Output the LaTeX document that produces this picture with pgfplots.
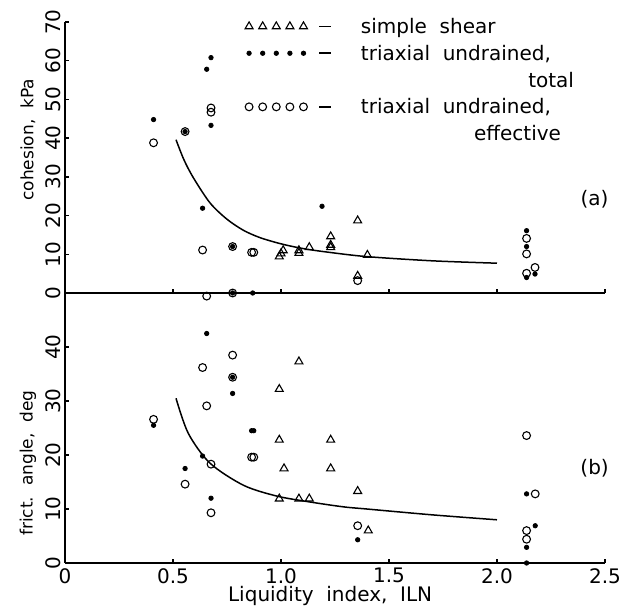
\documentclass[border=0pt]{standalone}
\usepackage{fontspec}
\setmainfont{DejaVu Sans}
\usepackage{pgfplots}
\pgfplotsset{compat=1.18}

\pgfplotsset{
  fivemarks/.style={legend image code/.code={%
      \begin{pgfscope}
        \pgfsetlinewidth{0.9pt}\pgfsetdash{}{0pt}\pgfsetstrokecolor{black}
        \pgfpathmoveto{\pgfpoint{35pt}{3.5pt}}\pgfpathlineto{\pgfpoint{41pt}{3.5pt}}
        \pgfusepath{stroke}
      \end{pgfscope}
      \draw[##1, only marks] plot coordinates {(0pt,3.5pt) (6.8pt,3.5pt) (13.6pt,3.5pt) (20.4pt,3.5pt) (27.2pt,3.5pt)};}},
  blank/.style={legend image code/.code={\path[draw=none, fill=none] (0pt,3.5pt) -- (41pt,3.5pt);}},
  shear/.style={only marks, mark=triangle, mark size=2.3pt, mark options={solid, line width=0.55pt}},
  total/.style={only marks, mark=*, mark size=1.1pt},
  effective/.style={only marks, mark=o, mark size=1.95pt, mark options={solid, line width=0.55pt}},
  panel/.style={
    scale only axis, width=270pt, clip=false,
    xmin=0, xmax=2.5,
    axis x line*=bottom, axis y line*=left,
    axis line style={-, line width=0.7pt},
    tick style={line width=0.7pt, black},
    tick align=inside, major tick length=2.2pt,
    xtick={0,0.5,1,1.5,2,2.5},
    yticklabel style={rotate=90, anchor=south, inner sep=2pt},
    xticklabel style={inner sep=2.5pt},
    ylabel style={font=\fontsize{8.5}{10}\selectfont, anchor=center},
  },
}

\begin{document}
\fontsize{10}{12}\selectfont
\begin{tikzpicture}
\useasboundingbox (-32.5pt,-22pt) rectangle (282pt,281.5pt);

% (b) friction angle
\begin{axis}[panel, name=bot, at={(0,0)}, height=135pt,
    ymin=0, ymax=50, ytick={0,10,20,30,40}, yticklabels={0,10,20,30,40},
    xticklabels={0,0.5,1.0,1.5,2.0,2.5},
    xlabel={Liquidity\ \ index,\ \ ILN},
    xlabel style={at={(axis description cs:0.491,0)}, anchor=north, inner sep=0pt, yshift=-11.5pt},
    ylabel={frict.\ \ angle,\ \ deg},
    ylabel style={at={(axis description cs:-0.0685,0.37)}}]
\addplot[shear] coordinates {
(1.083,37.3) (0.992,32.2) (0.992,22.8) (1.230,22.8) (1.014,17.5) (1.230,17.5)
(0.992,11.9) (1.083,11.9) (1.131,11.9) (1.355,13.3) (1.404,6.0)};
\addplot[total] coordinates {
(0.656,42.5) (0.776,31.4) (0.776,34.4) (0.864,24.5) (0.874,24.5) (0.637,19.8)
(0.556,17.5) (0.676,12.0) (0.410,25.5) (1.355,4.3) (2.137,12.8) (2.177,6.9)
(2.137,2.9) (2.137,0)};
\addplot[effective] coordinates {
(0.410,26.6) (0.776,38.5) (0.637,36.2) (0.656,29.1) (0.776,34.4) (0.864,19.6)
(0.874,19.6) (0.676,18.3) (0.556,14.6) (0.676,9.3) (1.355,6.9) (2.137,23.6)
(2.177,12.8) (2.137,6.0) (2.137,4.4)};
\addplot[smooth, line width=0.75pt] coordinates {
(0.514,30.5) (0.571,24.0) (0.671,18.5) (0.826,14.4) (0.98,12.4) (1.134,11.3)
(1.289,10.4) (1.397,10.0) (1.705,8.9) (2.0,8.0)};
\node at (axis cs:2.452,17.6) {(b)};
\end{axis}

% (a) cohesion
\begin{axis}[panel, name=top, at={(0,135pt)}, height=135.5pt,
    ymin=0, ymax=70, ytick={0,10,...,70}, yticklabels={0,10,20,30,40,50,60,70},
    xticklabels={},
    ylabel={cohesion,\ \ kPa},
    ylabel style={at={(axis description cs:-0.0685,0.565)}},
    legend style={draw=none, fill=none, inner sep=0pt, column sep=12.5pt, row sep=0.9pt,
      at={(axis cs:0.832,71.8)}, anchor=north west,
      cells={anchor=base west, inner sep=0pt, text height=7pt, text depth=2pt}}]
\addlegendimage{shear, fivemarks}
\addlegendentry{simple\ \ shear}
\addlegendimage{total, fivemarks}
\addlegendentry{triaxial\ \ undrained,}
\addlegendimage{blank}
\addlegendentry{\makebox[106.5pt][r]{total}}
\addlegendimage{effective, fivemarks}
\addlegendentry{triaxial\ \ undrained,}
\addlegendimage{blank}
\addlegendentry{\makebox[100pt][r]{effective}}

\addplot[shear, forget plot] coordinates {
(0.992,9.4) (1.000,10.2) (1.010,11.0) (1.083,10.3) (1.083,11.0) (1.131,11.8)
(1.230,14.6) (1.230,11.8) (1.230,12.4) (1.355,18.7) (1.400,9.8) (1.355,4.4)};
\addplot[total, forget plot] coordinates {
(0.410,44.8) (0.556,41.7) (0.656,57.8) (0.676,60.8) (0.676,43.3) (0.637,21.9)
(0.776,12.0) (1.190,22.4) (0.776,0) (0.869,0) (2.137,16.1) (2.137,12.0)
(2.137,4.0) (2.176,4.9)};
\addplot[effective, forget plot] coordinates {
(0.410,38.8) (0.556,41.7) (0.676,47.8) (0.676,46.7) (0.637,11.1) (0.776,12.0)
(0.776,0) (0.864,10.5) (0.874,10.5) (0.656,-0.8) (1.355,3.2) (2.137,14.1)
(2.137,10.1) (2.137,5.1) (2.176,6.6)};
\addplot[smooth, line width=0.75pt, forget plot] coordinates {
(0.514,39.6) (0.55,34.5) (0.594,29.8) (0.671,23.3) (0.749,19.1) (0.826,16.2)
(0.903,14.3) (1.0,12.7) (1.1,11.5) (1.21,10.6) (1.397,9.4) (1.705,8.3) (2.0,7.7)};
\node at (axis cs:2.452,24.1) {(a)};
\end{axis}
\end{tikzpicture}
\end{document}
